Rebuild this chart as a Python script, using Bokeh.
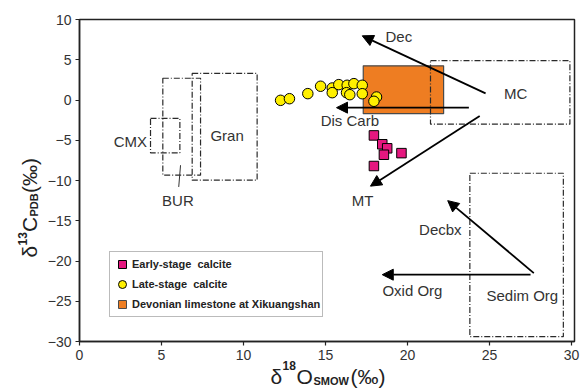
import math
import numpy as np
from bokeh.plotting import figure
from bokeh.models import (Range1d, Arrow, NormalHead, Label, Legend, LegendItem,
                          ColumnDataSource, FixedTicker)
from bokeh.core.properties import value
from bokeh.embed import file_html
from bokeh.resources import INLINE

# ---------------- data ----------------
early_x = [17.95, 18.46, 18.76, 18.56, 19.63, 17.95]
early_y = [-4.4, -5.5, -6.0, -6.8, -6.6, -8.2]

late_x = [12.26, 12.80, 13.92, 14.70, 15.41, 15.41, 15.81, 16.32, 16.28, 16.48,
          16.73, 17.24, 17.24, 18.11, 17.95]
late_y = [-0.04, 0.16, 0.79, 1.71, 1.49, 0.91, 1.91, 1.83, 0.91, 0.66,
          2.03, 1.83, 0.78, 0.37, -0.16]

# Devonian limestone at Xikuangshan (range)
dev_left, dev_right = [17.3], [22.2]
dev_bottom, dev_top = [-1.7], [4.25]

# reference fields (dash-dot boxes)
field_names = ["CMX", "BUR", "Gran", "MC", "Sedim Org"]
field_left = [4.33, 5.08, 6.87, 21.4, 23.8]
field_right = [6.12, 7.38, 10.83, 29.9, 29.5]
field_bottom = [-6.56, -9.34, -9.96, -3.0, -29.4]
field_top = [-2.28, 2.7, 3.3, 4.9, -9.1]

# process arrows
arrow_names = ["Dec", "Dis Carb", "MT", "Decbx", "Oxid Org"]
arrow_x0 = [24.76, 23.74, 24.40, 27.70, 27.50]
arrow_y0 = [0.83, -0.95, -2.00, -21.50, -21.70]
arrow_x1 = [17.24, 15.67, 17.74, 22.45, 18.46]
arrow_y1 = [7.97, -0.95, -10.70, -12.50, -21.70]

# BUR leader line
bur_x = [6.16, 6.05]
bur_y = [-8.1, -10.8]

# text labels
label_text = ["Dec", "MC", "Dis Carb", "MT", "Decbx", "Oxid Org", "Sedim Org",
              "Gran", "CMX", "BUR"]
label_x = [19.47, 26.6, 16.48, 17.26, 22.0, 20.3, 27.0, 9.0, 3.1, 6.0]
label_y = [7.9, 0.75, -2.6, -12.45, -16.1, -23.7, -24.3, -4.4, -5.2, -12.45]

x_ticks = [0, 5, 10, 15, 20, 25, 30]
y_ticks = [-30, -25, -20, -15, -10, -5, 0, 5, 10]
x_min, x_max = 0, 30.18
y_min, y_max = -30, 10

legend_labels = ["Early-stage  calcite", "Late-stage  calcite",
                 "Devonian limestone at Xikuangshan"]

# ---------------- layout ----------------
W, H = 586, 390
FRAME_L, FRAME_R, FRAME_T, FRAME_B = 79, 574, 19, 341
sx = (FRAME_R - FRAME_L) / (x_max - x_min)
sy = (FRAME_B - FRAME_T) / (y_max - y_min)
xr = Range1d(x_min - FRAME_L / sx, x_max + (W - FRAME_R) / sx)
yr = Range1d(y_min - (H - FRAME_B) / sy, y_max + FRAME_T / sy)

FONT = "Liberation Sans"
PINK = "#E5177F"
YELLOW = "#FFF000"
ORANGE = "#EE7D22"
TXT = "#333333"

p = figure(width=W, height=H, x_range=xr, y_range=yr,
           output_backend="svg", toolbar_location=None,
           min_border=0, background_fill_color="white",
           border_fill_color="white")

p.xgrid.visible = False
p.ygrid.visible = False
p.outline_line_color = None

for ax in (p.xaxis, p.yaxis):
    ax.axis_line_width = 1.5
    ax.axis_line_color = "#222222"
    ax.major_tick_line_color = "#222222"
    ax.major_tick_line_width = 1.2
    ax.major_tick_in = 0
    ax.major_tick_out = 4
    ax.minor_tick_line_color = None
    ax.major_label_text_font = FONT
    ax.major_label_text_font_size = "14px"
    ax.major_label_text_color = TXT
    ax.major_label_standoff = 4
p.xaxis.ticker = FixedTicker(ticks=x_ticks)
p.yaxis.ticker = FixedTicker(ticks=y_ticks)
p.xaxis.fixed_location = y_min
p.yaxis.fixed_location = x_min
p.xaxis.bounds = (x_min, x_max)
p.yaxis.bounds = (y_min, y_max)

# plot frame
p.quad(left=[x_min], right=[x_max], bottom=[y_min], top=[y_max],
       fill_color=None, line_color="#222222", line_width=1.5)

# Devonian limestone rectangle
p.quad(left=dev_left, right=dev_right, bottom=dev_bottom, top=dev_top,
       fill_color=ORANGE, line_color="#4a4a4a", line_width=1.2)

# dash-dot fields
p.quad(left=field_left, right=field_right, bottom=field_bottom, top=field_top,
       fill_color=None, line_color="#2a2a2a", line_width=1.2, line_dash="6 2 1 2")

# BUR leader
p.line(bur_x, bur_y, line_color="#333333", line_width=1)

# arrows
asrc = ColumnDataSource(dict(x0=arrow_x0, y0=arrow_y0, x1=arrow_x1, y1=arrow_y1))
p.add_layout(Arrow(source=asrc, x_start="x0", y_start="y0", x_end="x1", y_end="y1",
                   line_color="black", line_width=1.8,
                   end=NormalHead(size=11, fill_color="black", line_color="black",
                                  line_width=1)))

# points
r_late = p.scatter(late_x, late_y, marker="circle", size=10.5, fill_color=YELLOW,
                   line_color="black", line_width=1)
r_early = p.scatter(early_x, early_y, marker="square", size=9.5, fill_color=PINK,
                    line_color="black", line_width=1)
# legend swatch for the limestone range (no visible point)
r_dev_leg = p.scatter(np.array([np.nan]), np.array([np.nan]), marker="square", size=8,
                      fill_color=ORANGE, line_color="#4a4a4a", line_width=1)

# labels in plot
tsrc = ColumnDataSource(dict(x=label_x, y=label_y, t=label_text))
p.text(x="x", y="y", text="t", source=tsrc, text_font=value(FONT),
       text_font_size="15px", text_color=TXT, text_align="center",
       text_baseline="middle")

# legend
legend = Legend(items=[LegendItem(label=legend_labels[0], renderers=[r_early]),
                       LegendItem(label=legend_labels[1], renderers=[r_late]),
                       LegendItem(label=legend_labels[2], renderers=[r_dev_leg])],
                location=(109, H - 317), glyph_width=20, glyph_height=20,
                label_height=20, spacing=0, padding=2, margin=0,
                label_standoff=0, label_text_font=FONT, label_text_font_size="11px",
                label_text_font_style="bold", label_text_color="#222222",
                border_line_color="#777777", border_line_width=1,
                background_fill_color="white", background_fill_alpha=1)
p.add_layout(legend)


def lab(text, cx, cy, size, bold=False, angle=0.0):
    # cx, cy: canvas pixel position of the text anchor (from top-left)
    p.add_layout(Label(x=cx, y=H - cy, x_units="screen", y_units="screen", text=text,
                       text_font=FONT, text_font_size=size, angle=angle,
                       text_font_style="bold" if bold else "normal",
                       text_color="#222222", text_align="left",
                       text_baseline="alphabetic"))


# x-axis title: δ18O SMOW (‰)
XT = -9
lab("δ", 270, 385 + XT, "21px")
lab("18", 282, 374 + XT, "12px", bold=True)
lab("O", 296, 385 + XT, "21px")
lab("SMOW", 313, 389 + XT, "11px", bold=True)
lab("(‰)", 350, 385 + XT, "21px")

# y-axis title: δ13C PDB (‰)
A = math.pi / 2
YT = -4
lab("δ", 33 + YT, 257, "21px", angle=A)
lab("13", 26 + YT, 245, "12px", bold=True, angle=A)
lab("C", 33 + YT, 231.5, "21px", angle=A)
lab("PDB", 37 + YT, 216, "11px", bold=True, angle=A)
lab("(‰)", 33 + YT, 192.5, "21px", angle=A)

open("out.html", "w").write(file_html(p, INLINE))
